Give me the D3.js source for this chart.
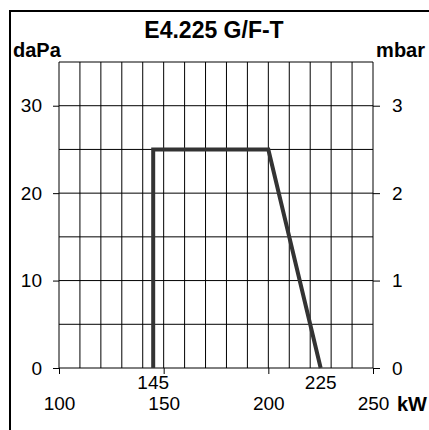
<!DOCTYPE html>
<html>
<head>
<meta charset="utf-8">
<script src="https://cdn.jsdelivr.net/npm/d3@7"></script>
<style>
  body { margin: 0; background: #fff; }
  svg { display: block; }
  text { font-family: "Liberation Sans", Arial, Helvetica, sans-serif; fill: #000; }
</style>
</head>
<body>
<svg id="chart" width="429" height="430"></svg>
<script>
// burner working field
const title = 'E4.225 G/F-T';
const powerKw = [145, 145, 200, 225];
const pressureDaPa = [0, 25, 25, 0];

const xTicks = [100, 150, 200, 250];
const xMarks = [145, 225];
const yTicks = [0, 10, 20, 30];
const mbarTicks = [0, 1, 2, 3];
const xGrid = d3.range(100, 251, 10);
const yGrid = d3.range(0, 36, 5);

const font = '"Liberation Sans", Arial, sans-serif';

const svg = d3.select('#chart');
const margin = { top: 62, right: 56, bottom: 62, left: 59 };
const width = 429 - margin.left - margin.right;
const height = 430 - margin.top - margin.bottom;

const x = d3.scaleLinear().domain([100, 250]).range([margin.left, margin.left + width]);
const y = d3.scaleLinear().domain([0, 35]).range([margin.top + height, margin.top]);
const yMbar = d3.scaleLinear().domain([0, 3.5]).range([margin.top + height, margin.top]);

// frame
svg.append('path')
    .attr('d', 'M10,430V11H429')
    .attr('fill', 'none')
    .attr('stroke', '#000')
    .attr('stroke-width', 2);

// grid
const grid = svg.append('g').attr('stroke', '#000').attr('stroke-width', 1);

grid.selectAll('.vline')
    .data(xGrid)
    .enter()
    .append('line')
    .attr('x1', d => x(d))
    .attr('x2', d => x(d))
    .attr('y1', y(0))
    .attr('y2', y(35));

grid.selectAll('.hline')
    .data(yGrid)
    .enter()
    .append('line')
    .attr('x1', x(100))
    .attr('x2', x(250))
    .attr('y1', d => y(d))
    .attr('y2', d => y(d));

// axes
svg.append('g')
    .attr('transform', `translate(${x(100)},0)`)
    .call(d3.axisLeft(y).tickValues(yTicks).tickSize(6).tickPadding(11));

svg.append('g')
    .attr('transform', `translate(${x(250)},0)`)
    .call(d3.axisRight(yMbar).tickValues(mbarTicks).tickFormat(d3.format('d')).tickSize(7).tickPadding(12));

svg.append('g')
    .attr('transform', `translate(0,${y(0)})`)
    .call(d3.axisBottom(x).tickValues(xTicks).tickSize(6).tickPadding(23));

svg.selectAll('.domain').remove();
svg.selectAll('.tick line').attr('stroke', '#000');
svg.selectAll('.tick text')
    .attr('fill', '#000')
    .style('font-family', font)
    .style('font-size', '19px');

// labels for the field limits
svg.append('g')
    .selectAll('text')
    .data(xMarks)
    .enter()
    .append('text')
    .attr('x', d => x(d))
    .attr('y', y(0) + 21)
    .attr('text-anchor', 'middle')
    .style('font-family', font)
    .style('font-size', '19px')
    .text(d => d);

// working field curve
const line = d3.line()
    .x((d, i) => x(powerKw[i]))
    .y(d => y(d));

svg.append('path')
    .datum(pressureDaPa)
    .attr('d', line)
    .attr('fill', 'none')
    .attr('stroke', '#333')
    .attr('stroke-width', 4)
    .attr('stroke-linejoin', 'miter');

// titles
svg.append('text')
    .attr('x', 214)
    .attr('y', 38)
    .attr('text-anchor', 'middle')
    .style('font-family', font)
    .style('font-size', '23px')
    .style('font-weight', 'bold')
    .text(title);

svg.append('text')
    .attr('x', 13)
    .attr('y', 57)
    .style('font-family', font)
    .style('font-size', '20px')
    .style('font-weight', 'bold')
    .text('daPa');

svg.append('text')
    .attr('x', 425)
    .attr('y', 57)
    .attr('text-anchor', 'end')
    .style('font-family', font)
    .style('font-size', '20px')
    .style('font-weight', 'bold')
    .text('mbar');

svg.append('text')
    .attr('x', 397)
    .attr('y', 411)
    .style('font-family', font)
    .style('font-size', '20px')
    .style('font-weight', 'bold')
    .text('kW');
</script>
</body>
</html>
